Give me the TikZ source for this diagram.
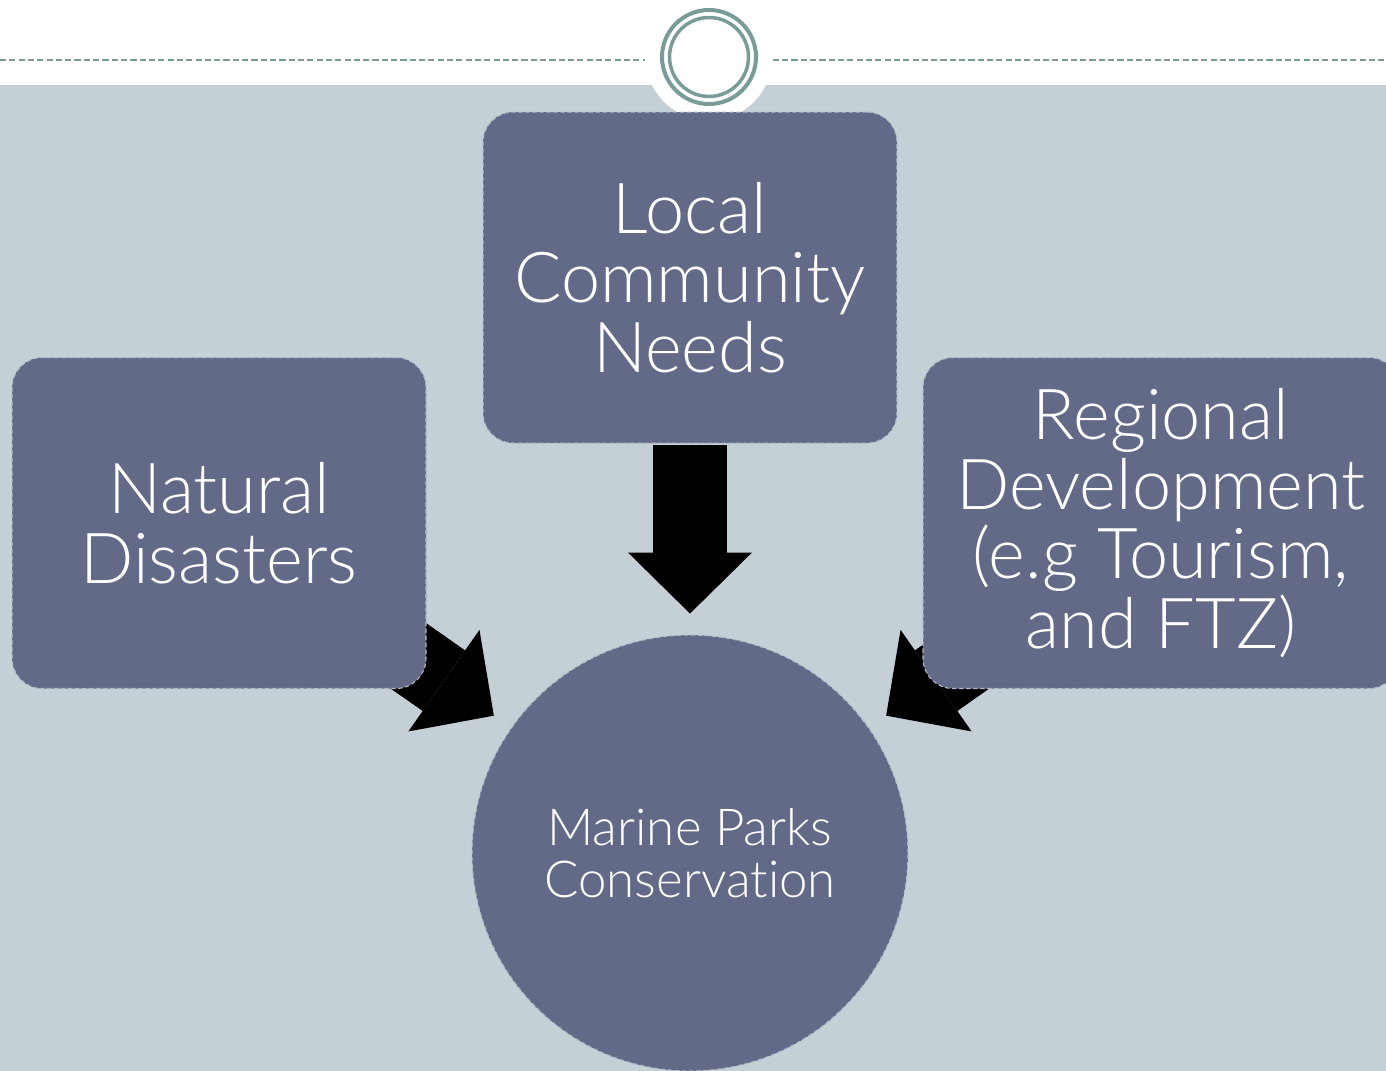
\documentclass[tikz,border=0pt]{standalone}
\usepackage{fontspec}
\setmainfont{Lato Light}[Ligatures=NoCommon]
\usetikzlibrary{positioning,calc,arrows.meta}
\definecolor{slide}{HTML}{C5D0D6}
\definecolor{boxfill}{HTML}{636A87}
\definecolor{boxline}{HTML}{B4B9C8}
\definecolor{ring}{HTML}{7A9C98}

\begin{document}
\begin{tikzpicture}[x=0.02cm, y=-0.02cm,
  box/.style={draw=boxline, fill=boxfill, line width=0.6pt, dash pattern=on 2.5pt off 1.5pt,
    rounded corners=0.6cm, minimum width=8.28cm, minimum height=6.62cm, inner sep=0pt,
    text=white, align=center, font=\fontsize{40}{39.7}\selectfont},
  hub/.style={circle, draw=boxline, fill=boxfill, line width=0.6pt, dash pattern=on 2.5pt off 1.5pt,
    minimum size=8.72cm, inner sep=0pt, text=white, align=center, font=\fontsize{29}{29.5}\selectfont},
  push/.style={black, line width=1.48cm, -{Triangle[length=1.22cm, width=2.48cm, line width=0pt]}},
  rule/.style={ring, line width=1pt, dash pattern=on 3.5pt off 1.8pt}]
 \useasboundingbox (0,0) rectangle (1386,1071);
 \clip (0,0) rectangle (1386,1071);
 % slide background
 \fill[white] (0,0) rectangle (1386,1071);
 \fill[slide] (0,85) rectangle (1386,1071);
 \coordinate (ruleL) at (0,60);
 \coordinate (ruleR) at (1386,60);
 \node[circle, fill=white, minimum size=2.54cm, inner sep=0pt] (badge) at (709,57) {};
 \draw[rule] (ruleL) -- (ruleL -| badge.west);
 \draw[rule] (badge.east |- ruleR) -- (ruleR);
 \draw[ring, line width=0.08cm] (badge.center) circle[radius=47];
 \draw[ring, line width=0.07cm] (badge.center) circle[radius=39.5];
 % diagram
 \node[hub] (marine) at (690,853) {Marine Parks\\Conservation};
 \foreach \a in {145,90,35}
  \draw[push] ($(marine.center)!1.866!(marine.\a)$) -- ($(marine.center)!1.096!(marine.\a)$);
 \node[box, above=3.82cm of marine] (local) {Local\\Community\\Needs};
 \node[box, below left=1.59cm and 1.12cm of local.west] (natural) {Natural\\Disasters};
 \node[box, below right=1.59cm and 0.5cm of local.east, minimum width=9.52cm] (regional)
  {Regional\\Development\\(e.g Tourism,\\and FTZ)};
\end{tikzpicture}
\end{document}
